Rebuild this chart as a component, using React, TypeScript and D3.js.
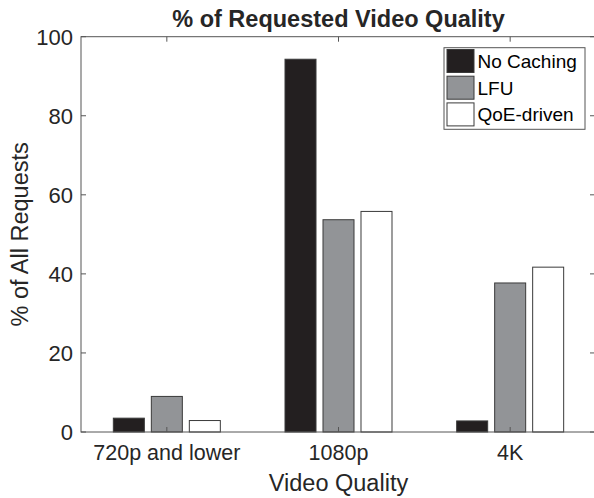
import React from "react";
import * as d3 from "d3";

const categories = ["720p and lower", "1080p", "4K"];
const seriesNames = ["No Caching", "LFU", "QoE-driven"];
const noCaching = [3.5, 94.3, 2.8];
const lfu = [9.0, 53.7, 37.7];
const qoeDriven = [2.9, 55.8, 41.7];
const yTicks = [0, 20, 40, 60, 80, 100];
const seriesColors = ["#231f20", "#929497", "#ffffff"];

const W = 594;
const H = 498;
const left = 81;
const right = 596;
const top = 36.7;
const bottom = 432;

export default function App() {
  const series = [noCaching, lfu, qoeDriven];
  const x = d3.scaleBand<string>().domain(categories).range([left, right]).paddingInner(0).paddingOuter(0);
  const inner = d3.scaleBand<number>().domain([0, 1, 2]).range([0, x.bandwidth()]).paddingInner(0.184).paddingOuter(0.851);
  const y = d3.scaleLinear().domain([0, 100]).range([bottom, top]);
  const axisColor = "#555";
  const textColor = "#262626";
  const font = "'Liberation Sans', Arial, sans-serif";
  const tickLen = 5;

  return (
    <svg width={W} height={H} style={{ position: "absolute", left: 0, top: 0, background: "#fff" }} fontFamily={font}>
      {/* bars */}
      {categories.map((c, ci) =>
        series.map((s, si) => (
          <rect
            key={`${ci}-${si}`}
            x={(x(c) as number) + (inner(si) as number)}
            y={y(s[ci])}
            width={inner.bandwidth()}
            height={y(0) - y(s[ci])}
            fill={seriesColors[si]}
            stroke="#3a3a3a"
            strokeWidth={1}
          />
        ))
      )}
      {/* axes box */}
      <rect x={left} y={top} width={right - left} height={bottom - top} fill="none" stroke={axisColor} strokeWidth={1} />
      {/* y ticks */}
      {yTicks.map((t) => (
        <g key={t}>
          <line x1={left} x2={left + tickLen} y1={y(t)} y2={y(t)} stroke={axisColor} />
          <line x1={right} x2={right - tickLen - 1} y1={y(t)} y2={y(t)} stroke={axisColor} />
          <text x={left - 8} y={y(t)} dy="0.36em" textAnchor="end" fontSize={22} fill={textColor}>
            {t}
          </text>
        </g>
      ))}
      {/* x ticks */}
      {categories.map((c) => {
        const cx = (x(c) as number) + x.bandwidth() / 2;
        return (
          <g key={c}>
            <line x1={cx} x2={cx} y1={top} y2={top + tickLen} stroke={axisColor} />
            <line x1={cx} x2={cx} y1={bottom} y2={bottom - tickLen} stroke={axisColor} />
            <text x={cx} y={460} textAnchor="middle" fontSize={21.5} fill={textColor}>
              {c}
            </text>
          </g>
        );
      })}
      {/* title */}
      <text x={(left + right) / 2} y={27} textAnchor="middle" fontSize={23.5} fontWeight="bold" fill={textColor}>
        % of Requested Video Quality
      </text>
      {/* axis labels */}
      <text x={(left + right) / 2} y={491} textAnchor="middle" fontSize={23.5} fill={textColor}>
        Video Quality
      </text>
      <text
        transform={`translate(28,${(top + bottom) / 2}) rotate(-90)`}
        textAnchor="middle"
        fontSize={23.5}
        fill={textColor}
      >
        % of All Requests
      </text>
      {/* legend */}
      <g>
        <rect x={444} y={47.7} width={141} height={81.6} fill="#fff" stroke={axisColor} strokeWidth={1} />
        {seriesNames.map((n, i) => {
          const ry = 49.5 + i * 26.7;
          return (
            <g key={n}>
              <rect x={447} y={ry} width={27} height={23} fill={seriesColors[i]} stroke="#3a3a3a" strokeWidth={1} />
              <text x={477.5} y={ry + 11.5} dy="0.36em" fontSize={19} fill="#000">
                {n}
              </text>
            </g>
          );
        })}
      </g>
    </svg>
  );
}
